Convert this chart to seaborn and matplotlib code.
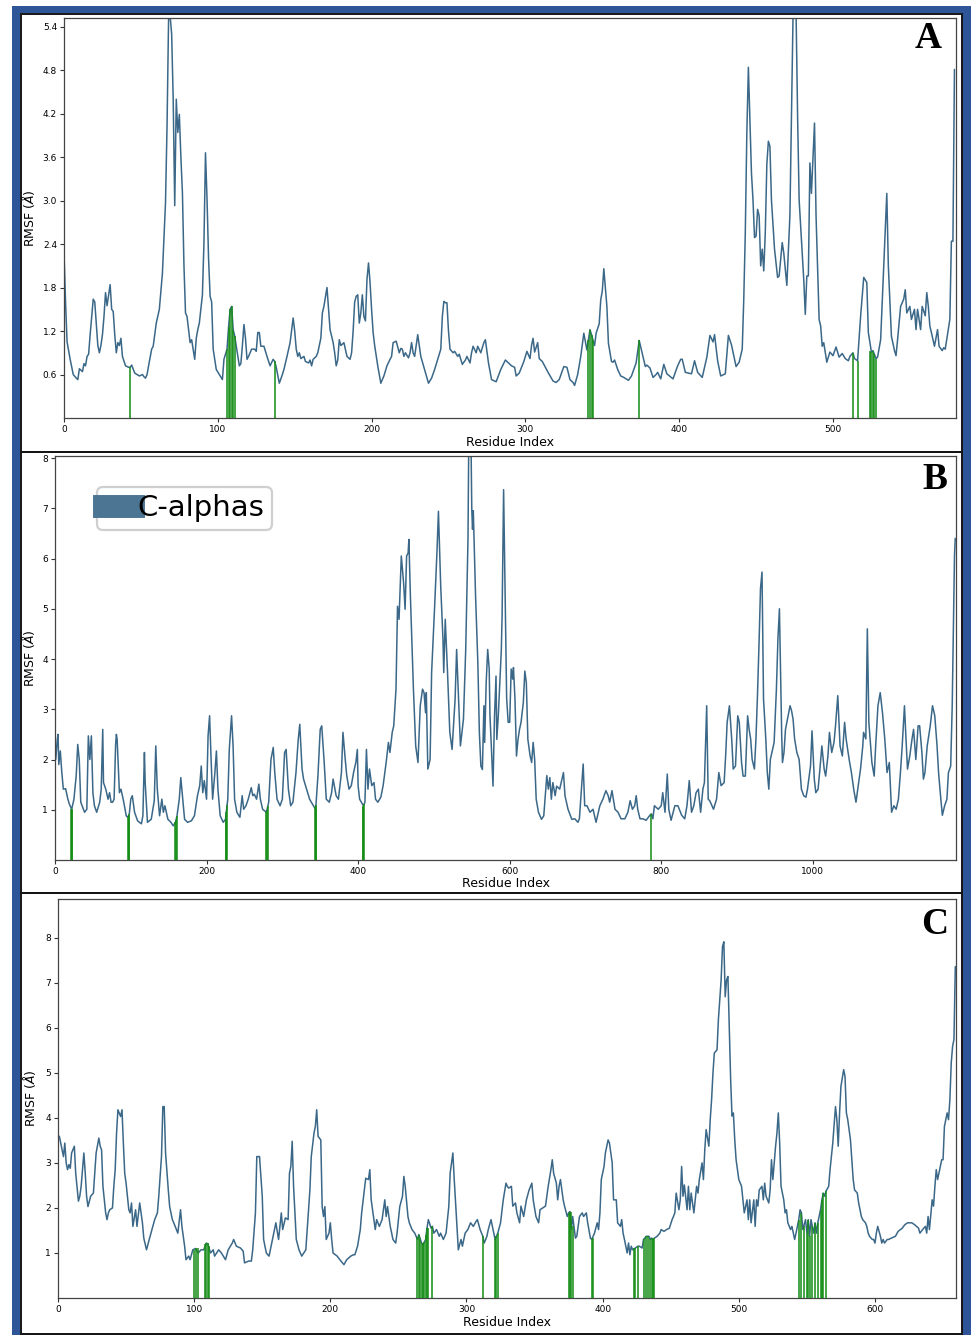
import matplotlib
matplotlib.use("Agg")
import matplotlib.pyplot as plt
import seaborn as sns
from matplotlib.lines import Line2D
from matplotlib.patches import Rectangle

sns.set_style("ticks")
plt.rcParams['font.family'] = ['DejaVu Sans']
plt.rcParams['text.color'] = 'black'

# ---------------- data (residue index, RMSF in Angstrom) ----------------
curve_A = [(0,2.28),(1,1.6),(2,1.05),(4,0.81),(6,0.6),(8,0.55),(9,0.53),(10,0.68),(12,0.64),(13,0.75),(14,0.72),(15,0.85),(16,0.88),(17,1.15),(18,1.4),(19,1.64),(20,1.6),(21,1.3),(22,1.0),(23,0.9),(24,1.0),(25,1.15),(26,1.4),(27,1.73),(28,1.55),(29,1.7),(30,1.84),(31,1.5),(32,1.47),(33,1.15),(34,0.9),(35,1.04),(36,1.0),(37,1.1),(38,0.85),(40,0.72),(42,0.7),(43,0.7),(44,0.73),(46,0.62),(49,0.58),(51,0.6),(52,0.57),(53,0.55),(54,0.6),(55,0.72),(57,0.95),(58,0.99),(60,1.31),(62,1.5),(64,2.0),(66,2.97),(67,4.03),(68,5.5),(69,5.55),(70,5.3),(71,4.4),(72,2.93),(73,4.4),(74,3.94),(75,4.19),(76,3.6),(77,3.11),(78,2.1),(79,1.45),(80,1.4),(82,1.04),(83,1.08),(85,0.81),(86,1.1),(87,1.22),(88,1.31),(90,1.7),(91,2.42),(92,3.66),(93,3.02),(94,2.2),(95,1.68),(96,1.6),(97,0.95),(99,0.67),(101,0.6),(103,0.53),(104,0.81),(106,0.95),(107,1.25),(108,1.5),(109,1.54),(110,1.22),(111,1.13),(113,0.85),(114,0.72),(115,0.75),(116,1.0),(117,1.29),(118,1.1),(119,0.81),(120,0.85),(122,0.95),(124,0.95),(125,0.92),(126,1.18),(127,1.18),(128,0.99),(130,0.99),(132,0.85),(134,0.72),(136,0.81),(137,0.78),(138,0.7),(140,0.48),(142,0.6),(143,0.67),(145,0.85),(147,1.04),(149,1.38),(150,1.2),(151,0.95),(152,0.85),(153,0.9),(154,0.82),(156,0.85),(157,0.78),(159,0.76),(160,0.8),(161,0.72),(162,0.81),(164,0.85),(165,0.9),(166,1.0),(167,1.1),(168,1.45),(169,1.54),(171,1.8),(172,1.5),(173,1.22),(175,1.04),(176,0.9),(177,0.72),(178,0.8),(179,1.08),(180,1.0),(182,1.04),(184,0.85),(186,0.81),(187,0.9),(188,1.2),(189,1.6),(190,1.68),(191,1.7),(192,1.31),(193,1.45),(194,1.7),(195,1.4),(196,1.34),(197,1.91),(198,2.14),(199,1.87),(200,1.5),(201,1.18),(202,1.0),(204,0.72),(206,0.48),(208,0.58),(210,0.72),(212,0.81),(213,0.85),(214,1.04),(216,1.06),(218,0.9),(219,0.96),(220,0.95),(221,0.85),(222,0.9),(224,0.83),(225,0.9),(226,1.04),(227,0.9),(228,0.85),(229,1.0),(230,1.15),(231,1.0),(232,0.85),(234,0.7),(235,0.62),(237,0.48),(239,0.55),(241,0.67),(243,0.81),(245,0.95),(246,1.4),(247,1.61),(248,1.59),(249,1.59),(250,1.2),(251,0.95),(253,0.9),(254,0.92),(256,0.85),(257,0.88),(259,0.74),(261,0.8),(262,0.85),(264,0.76),(265,0.9),(266,0.99),(268,0.9),(269,0.99),(271,0.9),(273,1.04),(274,1.08),(276,0.76),(278,0.53),(281,0.5),(284,0.67),(287,0.8),(289,0.76),(291,0.72),(293,0.7),(294,0.58),(296,0.62),(299,0.78),(301,0.92),(303,0.82),(304,1.0),(305,1.1),(306,0.91),(308,1.04),(309,0.82),(311,0.78),(315,0.62),(318,0.51),(320,0.49),(322,0.53),(325,0.71),(327,0.7),(329,0.53),(331,0.49),(332,0.45),(334,0.6),(336,0.85),(338,1.17),(340,0.94),(342,1.22),(343,1.15),(344,1.07),(345,1.0),(346,1.17),(348,1.3),(349,1.63),(350,1.75),(351,2.06),(353,1.54),(354,1.03),(356,0.78),(357,0.77),(358,0.8),(360,0.67),(362,0.58),(364,0.56),(367,0.52),(369,0.58),(372,0.76),(374,1.07),(376,0.89),(378,0.71),(379,0.73),(381,0.69),(383,0.56),(385,0.6),(386,0.63),(388,0.54),(390,0.74),(392,0.61),(396,0.54),(399,0.72),(401,0.81),(402,0.81),(404,0.63),(408,0.61),(410,0.79),(412,0.63),(415,0.56),(418,0.84),(420,1.14),(422,1.05),(423,1.15),(425,0.79),(427,0.58),(430,0.61),(432,1.14),(434,1.01),(437,0.71),(439,0.77),(441,0.95),(442,1.64),(443,2.56),(444,3.94),(445,4.84),(447,3.38),(448,3.01),(449,2.49),(450,2.51),(451,2.88),(452,2.79),(453,2.1),(454,2.33),(455,2.03),(456,2.56),(457,3.5),(458,3.82),(459,3.75),(460,3.01),(462,2.33),(464,1.94),(465,1.96),(467,2.42),(468,2.28),(470,1.83),(471,2.3),(472,2.79),(473,4.17),(474,5.5),(475,6.2),(476,5.6),(477,4.17),(478,3.01),(480,2.28),(481,1.91),(482,1.43),(483,1.96),(484,1.96),(485,3.52),(486,3.1),(488,4.07),(489,2.79),(491,1.36),(492,1.27),(493,0.99),(494,1.04),(496,0.77),(498,0.91),(500,0.86),(502,0.98),(504,0.84),(506,0.89),(508,0.82),(510,0.79),(511,0.85),(513,0.9),(514,0.82),(516,0.79),(518,1.41),(520,1.94),(522,1.87),(523,1.18),(525,0.91),(526,0.93),(528,0.82),(529,0.84),(531,1.08),(533,2.1),(535,3.1),(536,2.1),(538,1.13),(540,0.93),(541,0.86),(542,1.08),(544,1.54),(546,1.64),(547,1.77),(548,1.45),(550,1.54),(551,1.36),(553,1.5),(554,1.22),(555,1.5),(557,1.22),(558,1.54),(560,1.41),(561,1.73),(562,1.54),(563,1.27),(564,1.18),(566,0.99),(568,1.22),(569,0.99),(571,0.93),(572,0.97),(573,0.95),(575,1.22),(576,1.36),(577,2.44),(578,2.44),(579,4.81)]

contacts_A = [43, 106, 107, 108, 109, 110, 111, 137, 341, 342, 343, 344, 374, 513, 516, 524, 525, 526, 527, 528]
contact_rmsf_A = [0.70, 0.95, 1.25, 1.50, 1.54, 1.22, 1.13, 0.78, 1.08, 1.22, 1.15, 1.07, 1.07, 0.90, 0.79, 0.92, 0.91, 0.93, 0.88, 0.82]

curve_B = [(0,2.27),(1,2.0),(3,2.4),(4,2.5),(5,1.9),(7,2.17),(9,1.74),(11,1.41),(14,1.42),(17,1.21),(19,1.11),(22,1.01),(25,1.21),(28,1.68),(30,2.3),(32,2.0),(34,1.15),(39,0.95),(42,1.01),(44,2.47),(46,2.0),(48,2.47),(50,1.34),(52,1.08),(55,0.95),(59,1.15),(61,1.41),(63,2.6),(64,1.54),(67,1.41),(70,1.21),(72,1.34),(74,1.15),(76,1.15),(78,1.21),(80,2.3),(81,2.5),(82,2.4),(85,1.34),(87,1.41),(90,1.21),(94,0.88),(96,0.85),(98,0.91),(100,1.21),(102,1.28),(105,0.95),(109,0.78),(114,0.72),(116,0.88),(118,2.14),(119,1.54),(122,0.75),(127,0.81),(131,1.18),(133,2.27),(135,1.41),(138,0.88),(141,1.21),(143,0.95),(145,1.08),(149,0.81),(153,0.75),(156,0.68),(159,0.75),(161,0.88),(164,1.21),(166,1.64),(169,1.15),(171,0.81),(175,0.75),(180,0.78),(184,0.88),(188,1.28),(191,1.48),(193,1.87),(195,1.34),(197,1.58),(200,1.21),(202,2.47),(204,2.87),(206,2.0),(208,1.21),(211,1.74),(213,2.17),(215,1.41),(218,0.88),(222,0.75),(225,0.81),(228,1.21),(230,2.2),(233,2.87),(235,2.27),(237,1.21),(240,0.95),(244,0.85),(247,1.28),(249,1.01),(252,1.08),(255,1.21),(259,1.44),(261,1.28),(263,1.31),(266,1.21),(269,1.51),(271,1.21),(274,1.01),(279,0.95),(282,1.15),(285,2.0),(288,2.24),(290,1.74),(293,1.21),(297,1.08),(300,1.21),(303,2.14),(305,2.2),(308,1.41),(311,1.08),(314,1.15),(318,1.74),(321,2.4),(323,2.7),(326,1.81),(328,1.61),(332,1.41),(336,1.21),(341,1.08),(344,1.01),(347,1.68),(350,2.6),(352,2.67),(355,2.0),(358,1.21),(362,1.15),(365,1.34),(367,1.61),(371,1.28),(374,1.21),(378,1.74),(380,2.54),(383,2.0),(385,1.68),(388,1.41),(391,1.48),(394,1.74),(397,1.94),(399,2.2),(400,1.48),(402,1.21),(407,1.08),(409,1.15),(411,2.2),(413,1.41),(415,1.81),(418,1.48),(421,1.54),(423,1.21),(426,1.15),(430,1.25),(433,1.48),(437,1.94),(440,2.34),(442,2.14),(445,2.54),(447,2.67),(450,3.4),(452,5.05),(454,4.79),(457,6.05),(460,5.52),(462,4.99),(464,6.05),(466,6.11),(467,6.38),(469,5.25),(473,3.4),(476,2.27),(479,1.94),(482,3.07),(485,3.4),(487,3.33),(489,2.93),(490,3.33),(492,1.81),(495,2.0),(497,3.73),(499,4.39),(501,5.05),(504,6.11),(506,6.94),(509,5.45),(512,4.39),(513,3.73),(515,4.79),(518,3.73),(521,2.54),(524,2.2),(528,3.2),(530,4.19),(533,3.07),(535,2.27),(539,2.8),(542,4.19),(545,6.38),(546,8.3),(549,8.3),(550,6.98),(551,6.58),(552,6.95),(555,5.25),(558,3.93),(560,2.54),(562,1.87),(564,1.8),(566,3.07),(567,2.34),(569,3.53),(571,4.19),(573,3.8),(574,2.87),(576,2.2),(578,1.47),(580,2.87),(582,3.66),(583,2.4),(585,2.87),(587,3.53),(589,4.19),(590,4.86),(592,7.37),(596,3.23),(598,2.74),(600,2.74),(602,3.8),(604,3.6),(605,3.83),(607,3.2),(609,2.07),(611,2.4),(613,2.6),(615,2.74),(618,3.13),(620,3.76),(622,3.53),(624,2.4),(627,2.07),(629,1.94),(631,2.34),(633,2.0),(635,1.21),(638,0.95),(642,0.81),(645,0.88),(649,1.68),(651,1.41),(653,1.64),(655,1.21),(657,1.54),(660,1.28),(662,1.47),(666,1.41),(671,1.74),(673,1.28),(677,1.01),(682,0.81),(686,0.82),(690,0.75),(692,0.82),(697,1.91),(699,1.08),(702,1.08),(706,0.95),(710,1.01),(714,0.75),(719,1.08),(723,1.21),(727,1.38),(730,1.28),(732,1.15),(735,1.38),(739,1.01),(743,0.95),(747,0.82),(752,0.82),(756,0.95),(759,1.18),(762,1.01),(765,1.08),(767,1.28),(769,1.01),(772,0.82),(776,0.82),(780,0.79),(785,0.89),(787,0.92),(789,0.82),(791,1.08),(796,1.01),(800,1.08),(802,1.34),(805,0.95),(808,1.71),(810,1.01),(813,0.79),(818,1.08),(822,1.08),(827,0.89),(831,0.82),(834,1.08),(837,1.58),(840,0.95),(843,1.08),(846,1.34),(849,1.41),(852,0.95),(855,1.41),(857,1.54),(860,3.07),(862,1.21),(864,1.18),(869,1.01),(873,1.21),(876,1.74),(879,1.48),(883,1.54),(885,2.07),(887,2.74),(890,3.07),(893,2.41),(895,1.81),(898,1.87),(901,2.87),(903,2.74),(906,1.94),(908,1.67),(911,1.67),(914,2.87),(916,2.6),(918,2.41),(920,2.0),(923,1.81),(925,2.41),(927,3.27),(929,4.27),(931,5.4),(933,5.73),(935,3.2),(938,2.41),(940,1.74),(942,1.41),(944,2.0),(947,2.2),(949,2.34),(952,3.4),(954,4.4),(956,5.0),(959,2.47),(960,1.94),(962,2.14),(964,2.6),(967,2.84),(970,3.07),(972,2.97),(974,2.8),(976,2.41),(979,2.14),(982,2.0),(985,1.41),(988,1.28),(991,1.25),(993,1.41),(997,1.87),(999,2.57),(1002,1.61),(1004,1.34),(1007,1.41),(1009,1.74),(1012,2.27),(1015,1.81),(1017,1.67),(1020,2.07),(1022,2.54),(1025,2.14),(1028,2.34),(1030,2.67),(1033,3.27),(1036,2.27),(1039,2.07),(1042,2.74),(1044,2.41),(1048,2.0),(1051,1.74),(1054,1.41),(1057,1.15),(1060,1.48),(1063,1.81),(1066,2.27),(1067,2.54),(1070,2.41),(1072,4.6),(1074,2.74),(1078,1.94),(1081,1.67),(1083,2.27),(1086,3.07),(1089,3.33),(1092,2.93),(1095,2.41),(1098,1.74),(1101,1.94),(1104,0.95),(1107,1.08),(1110,1.01),(1113,1.21),(1116,1.81),(1118,2.27),(1121,3.07),(1123,2.41),(1125,1.81),(1128,2.07),(1131,2.41),(1133,2.6),(1136,2.0),(1139,2.67),(1141,2.67),(1144,2.14),(1146,1.61),(1148,1.74),(1151,2.27),(1155,2.67),(1158,3.07),(1161,2.87),(1164,2.27),(1166,1.74),(1169,1.21),(1171,0.89),(1174,1.08),(1177,1.21),(1179,1.74),(1182,1.87),(1184,3.07),(1187,6.05),(1188,6.4)]

contacts_B = [21, 22, 23, 96, 97, 98, 159, 160, 161, 225, 226, 227, 279, 280, 281, 343, 344, 345, 406, 407, 408, 787]
contact_rmsf_B = [1.02, 1.01, 1.0, 0.86, 0.88, 0.91, 0.75, 0.8, 0.88, 0.81, 0.95, 1.1, 0.95, 1.0, 1.08, 1.05, 1.01, 1.1, 1.05, 1.08, 1.12, 0.92]

curve_C = [(0,3.59),(1,3.59),(3,3.29),(4,3.14),(5,3.44),(6,3.0),(7,2.85),(8,2.96),(9,2.88),(10,3.22),(12,3.37),(13,2.77),(15,2.15),(16,2.26),(17,2.48),(19,3.22),(20,2.77),(21,2.26),(22,2.03),(24,2.26),(26,2.33),(27,2.77),(28,3.22),(30,3.55),(31,3.37),(32,3.29),(33,2.48),(35,1.89),(36,1.74),(37,1.89),(38,1.96),(40,2.0),(41,2.48),(42,2.85),(43,3.66),(44,4.18),(46,4.03),(47,4.18),(48,3.44),(49,2.77),(50,2.55),(52,1.96),(53,1.89),(54,2.11),(55,1.59),(57,1.96),(58,1.59),(60,2.11),(62,1.67),(63,1.33),(65,1.07),(67,1.3),(69,1.52),(71,1.74),(73,1.89),(74,2.26),(76,3.14),(77,4.25),(78,4.25),(79,3.22),(81,2.4),(82,2.03),(84,1.74),(85,1.67),(87,1.52),(88,1.44),(90,1.96),(91,1.59),(93,1.15),(94,0.85),(96,0.93),(97,0.85),(99,1.07),(101,1.1),(103,1.0),(105,1.07),(107,1.07),(109,1.22),(110,1.2),(112,1.0),(114,1.07),(115,0.93),(118,1.07),(120,1.0),(123,0.85),(125,1.07),(128,1.22),(129,1.3),(131,1.15),(134,1.11),(136,1.04),(137,0.78),(140,0.82),(142,0.82),(143,1.07),(145,1.89),(146,3.14),(148,3.14),(150,2.26),(151,1.3),(153,1.0),(155,0.93),(157,1.22),(159,1.52),(160,1.67),(162,1.3),(164,1.89),(165,1.52),(167,1.78),(169,1.74),(170,2.77),(171,2.92),(172,3.48),(173,2.48),(175,1.3),(177,1.07),(179,0.93),(182,1.07),(183,1.52),(185,2.4),(186,3.14),(188,3.66),(189,3.81),(190,4.18),(191,3.59),(193,3.51),(194,2.03),(195,1.81),(196,2.03),(197,1.3),(199,1.44),(200,1.67),(201,1.3),(202,1.0),(205,0.93),(207,0.85),(210,0.74),(212,0.85),(215,0.93),(217,0.96),(218,0.96),(220,1.15),(222,1.52),(223,1.89),(225,2.4),(226,2.66),(228,2.63),(229,2.85),(230,2.18),(231,1.96),(233,1.52),(234,1.74),(236,1.59),(238,1.74),(240,2.18),(241,1.81),(242,2.03),(244,1.59),(246,1.3),(248,1.22),(249,1.44),(251,2.03),(253,2.26),(254,2.7),(255,2.48),(257,1.81),(258,1.67),(260,1.52),(262,1.44),(264,1.3),(265,1.41),(267,1.22),(268,1.18),(270,1.3),(271,1.55),(272,1.74),(274,1.55),(275,1.59),(276,1.44),(278,1.52),(280,1.37),(281,1.44),(283,1.3),(285,1.44),(287,2.03),(288,2.77),(290,3.22),(291,2.63),(293,1.59),(294,1.07),(296,1.3),(297,1.15),(299,1.44),(301,1.52),(303,1.67),(305,1.59),(307,1.7),(308,1.74),(310,1.52),(312,1.37),(313,1.22),(315,1.37),(316,1.52),(318,1.74),(320,1.44),(321,1.3),(323,1.44),(325,1.67),(327,2.18),(329,2.55),(330,2.48),(331,2.44),(333,2.48),(334,2.04),(336,2.11),(337,1.89),(339,1.67),(340,2.04),(342,1.81),(344,2.18),(346,2.4),(348,2.55),(349,2.18),(351,1.81),(353,1.67),(354,1.96),(356,2.0),(358,2.04),(360,2.48),(362,2.85),(363,3.07),(364,2.77),(366,2.55),(367,2.18),(368,2.48),(369,2.63),(371,2.18),(372,2.04),(374,1.81),(375,1.89),(376,1.92),(377,1.52),(378,1.81),(380,1.33),(381,1.37),(383,1.81),(385,1.89),(386,1.81),(388,1.89),(389,1.67),(391,1.33),(392,1.3),(394,1.44),(396,1.67),(397,1.52),(398,1.89),(399,2.63),(401,2.92),(402,3.22),(404,3.51),(405,3.44),(407,3.0),(408,2.18),(410,2.18),(411,1.67),(413,1.59),(414,1.74),(415,1.44),(416,1.3),(418,1.0),(419,1.22),(420,0.96),(421,1.15),(422,1.07),(424,1.11),(426,1.15),(427,1.15),(429,1.11),(430,1.3),(431,1.33),(432,1.37),(434,1.37),(435,1.3),(436,1.33),(437,1.3),(438,1.33),(440,1.37),(442,1.44),(443,1.52),(445,1.48),(447,1.52),(449,1.55),(451,1.74),(452,1.81),(453,1.89),(454,2.33),(456,1.96),(457,2.18),(458,2.92),(459,2.26),(460,2.51),(462,1.96),(463,2.48),(464,1.96),(465,2.33),(467,1.89),(468,2.18),(469,2.48),(470,2.33),(471,2.63),(473,3.0),(474,2.63),(475,3.29),(476,3.74),(478,3.37),(479,3.96),(480,4.4),(481,4.99),(482,5.44),(484,5.51),(485,6.18),(486,6.62),(487,7.06),(488,7.8),(489,7.91),(490,6.69),(491,7.06),(492,7.14),(493,5.96),(494,4.85),(495,4.04),(496,4.11),(497,3.52),(498,3.07),(500,2.63),(502,2.48),(503,2.18),(504,1.89),(506,2.18),(507,1.74),(508,2.18),(509,1.67),(511,2.18),(512,1.59),(513,2.18),(514,2.04),(515,2.4),(517,2.48),(518,2.18),(519,2.55),(520,2.26),(522,2.11),(523,2.4),(524,3.07),(525,2.63),(527,3.37),(528,3.66),(529,4.11),(530,3.44),(531,2.48),(533,2.18),(534,1.89),(535,1.96),(536,1.67),(538,1.52),(539,1.59),(540,1.44),(541,1.3),(542,1.44),(544,1.74),(545,1.96),(546,1.89),(547,1.52),(549,1.74),(550,1.44),(551,1.74),(552,1.37),(553,1.74),(555,1.44),(556,1.67),(557,1.44),(558,1.67),(560,1.96),(561,2.18),(562,2.33),(563,2.26),(564,2.37),(566,2.48),(567,2.85),(568,3.14),(569,3.44),(571,4.25),(572,3.96),(573,3.37),(574,4.11),(575,4.7),(577,5.07),(578,4.92),(579,4.11),(580,3.96),(582,3.51),(583,3.07),(584,2.63),(585,2.4),(587,2.33),(588,2.11),(589,1.96),(590,1.81),(591,1.74),(593,1.67),(594,1.59),(595,1.44),(596,1.37),(598,1.3),(599,1.3),(600,1.22),(601,1.44),(602,1.59),(604,1.37),(605,1.22),(606,1.3),(607,1.22),(609,1.3),(610,1.3),(612,1.33),(615,1.37),(617,1.48),(620,1.55),(622,1.63),(624,1.67),(627,1.67),(629,1.63),(632,1.55),(633,1.44),(635,1.52),(637,1.59),(638,1.44),(639,1.81),(640,1.52),(642,2.18),(643,2.04),(644,2.48),(645,2.85),(646,2.63),(648,2.92),(649,3.07),(650,3.07),(651,3.81),(653,4.11),(654,3.96),(655,4.4),(656,5.22),(657,5.59),(658,5.74),(659,7.36)]

contacts_C = [100, 101, 103, 108, 109, 110, 111, 264, 265, 266, 267, 268, 269, 270, 271, 272, 275, 312, 321, 322, 323, 375, 376, 377, 378, 392, 393, 423, 424, 426, 430, 432, 433, 435, 436, 437, 438, 544, 546, 548, 550, 551, 552, 554, 556, 558, 560, 561, 562, 564]
contact_rmsf_C = [1.07, 1.1, 1.1, 1.2, 1.22, 1.22, 1.15, 1.35, 1.41, 1.3, 1.22, 1.2, 1.25, 1.4, 1.55, 1.55, 1.59, 1.37, 1.3, 1.37, 1.44, 1.89, 1.92, 1.9, 1.6, 1.3, 1.33, 1.1, 1.11, 1.15, 1.3, 1.37, 1.37, 1.3, 1.33, 1.3, 1.33, 1.74, 1.89, 1.6, 1.44, 1.74, 1.37, 1.6, 1.67, 1.67, 1.96, 2.18, 2.33, 2.37]

xticks_A = [0, 100, 200, 300, 400, 500]
yticks_A = [0.6, 1.2, 1.8, 2.4, 3.0, 3.6, 4.2, 4.8, 5.4]
xticks_B = [0, 200, 400, 600, 800, 1000]
yticks_B = [1, 2, 3, 4, 5, 6, 7, 8]
xticks_C = [0, 100, 200, 300, 400, 500, 600]
yticks_C = [1, 2, 3, 4, 5, 6, 7, 8]
panel_letters = ["A", "B", "C"]
legend_label = "C-alphas"
x_label = "Residue Index"
y_label = r"RMSF ($\AA$)"

# ---------------- style ----------------
LINE = "#3b6888"
LEGC = "#4b7592"
GREEN = "#138c13"
BLUE = "#2d5597"
W, H = 971, 1335

fig = plt.figure(figsize=(W / 100, H / 100), dpi=100)
fig.patch.set_facecolor("white")

bg = fig.add_axes([0, 0, 1, 1], zorder=-10)
bg.set_xlim(0, W)
bg.set_ylim(H, 0)
bg.axis("off")
bg.add_patch(Rectangle((12, 6), W, H + 10, facecolor=BLUE, edgecolor="none"))
bg.add_patch(Rectangle((20, 13), 942, 1320, facecolor="white", edgecolor="none"))
for y0, y1 in [(13.5, 452), (452, 892.5), (892.5, 1333.5)]:
    bg.add_patch(Rectangle((20.5, y0), 941.5, y1 - y0, facecolor="none",
                           edgecolor="#151515", lw=1.4))


def pos(l, t, r, b):
    return [l / W, 1 - b / H, (r - l) / W, (b - t) / H]


def panel(rect, curve, cres, chgt, xlim, ylim, xt, yt, ylabs, letter, lpos, ylx, xly):
    ax = fig.add_axes(rect)
    xs = [p[0] for p in curve]
    ys = [p[1] for p in curve]
    sns.lineplot(x=xs, y=ys, ax=ax, color=LINE, linewidth=1.1,
                 estimator=None, sort=False, legend=False)
    ax.vlines(cres, 0, chgt, colors=GREEN, linewidth=1.1, zorder=3)
    ax.set_xlim(*xlim)
    ax.set_ylim(*ylim)
    ax.set_xticks(xt)
    ax.set_xticklabels([str(v) for v in xt])
    ax.set_yticks(yt)
    ax.set_yticklabels(ylabs)
    ax.tick_params(axis="both", labelsize=6.5, length=3, width=0.8,
                   color="#333333", labelcolor="black", pad=2)
    for s in ax.spines.values():
        s.set_color("#444444")
        s.set_linewidth(0.9)
    ax.set_xlabel(x_label, fontsize=9, color="black")
    ax.set_ylabel(y_label, fontsize=9, color="black")
    ax.yaxis.set_label_coords(ylx, 0.5)
    ax.xaxis.set_label_coords(0.5, xly)
    ax.text(lpos[0], lpos[1], letter, transform=ax.transAxes, ha="center",
            va="center", fontsize=27, fontweight="bold",
            family=["Liberation Serif", "DejaVu Serif"], color="black")
    return ax


axA = panel(pos(64, 18, 956, 418), curve_A, contacts_A, contact_rmsf_A,
            (0, 580), (0, 5.52), xticks_A, yticks_A,
            [f"{v:.1f}" for v in yticks_A], panel_letters[0], (0.9686, 0.9475),
            -0.030, -0.045)
axB = panel(pos(55, 456, 956, 860), curve_B, contacts_B, contact_rmsf_B,
            (0, 1189), (0, 8.04), xticks_B, yticks_B,
            [str(v) for v in yticks_B], panel_letters[1], (0.976, 0.9406),
            -0.020, -0.042)
axC = panel(pos(58, 899, 956, 1298), curve_C, contacts_C, contact_rmsf_C,
            (0, 659.5), (0, 8.86), xticks_C, yticks_C,
            [str(v) for v in yticks_C], panel_letters[2], (0.976, 0.935),
            -0.022, -0.045)

handle = Line2D([0], [0], color=LEGC, lw=16.5, solid_capstyle="projecting")
leg = axB.legend([handle], [legend_label], loc="upper left",
                 bbox_to_anchor=(0.0466, 0.923), borderaxespad=0, fontsize=21,
                 handlelength=1.0, handletextpad=0.15, borderpad=0.25,
                 frameon=True, fancybox=True, framealpha=1, labelcolor="black")
leg.get_frame().set_edgecolor("#cfcfcf")
leg.get_frame().set_linewidth(1.6)

fig.savefig("out.png", dpi=100, facecolor="white")
